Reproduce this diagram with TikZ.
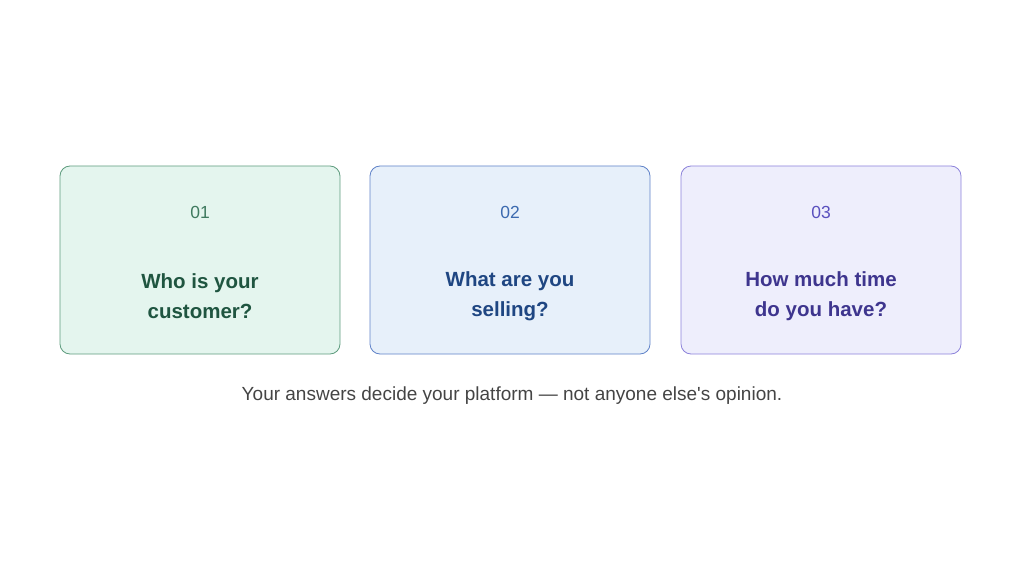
\documentclass[tikz,border=0pt]{standalone}
\usepackage{fontspec}
\setmainfont{Liberation Sans}
\usetikzlibrary{positioning}
\definecolor{greenfill}{HTML}{E4F5EE}
\definecolor{greenline}{HTML}{5E9C7E}
\definecolor{greennum}{HTML}{3F7A5F}
\definecolor{greentext}{HTML}{1F5540}
\definecolor{bluefill}{HTML}{E7F0FA}
\definecolor{blueline}{HTML}{5F82C8}
\definecolor{bluenum}{HTML}{3C6AAF}
\definecolor{bluetext}{HTML}{1F4682}
\definecolor{purplefill}{HTML}{EEEEFC}
\definecolor{purpleline}{HTML}{8C82DA}
\definecolor{purplenum}{HTML}{5A50BE}
\definecolor{purpletext}{HTML}{3E358E}
\definecolor{captiontext}{HTML}{444444}
\tikzset{
  card/.style={draw, rounded corners=10pt, minimum width=280pt, minimum height=188pt, line width=0.8pt},
  cardnum/.style={font=\fontsize{17.5}{20}\selectfont},
  question/.style={font=\fontsize{20.5}{30}\selectfont\bfseries, align=center}
}
\begin{document}
\begin{tikzpicture}[x=1pt,y=-1pt]
        \useasboundingbox (0,0) rectangle (1024,564);
        % Draw the cards
        \node[card, draw=greenline, fill=greenfill] (who) at (200,260) {};
        \node[card, draw=blueline, fill=bluefill] (what) at (510,260) {};
        \node[card, draw=purpleline, fill=purplefill] (time) at (821,260) {};
        % Label the numbers
        \node[cardnum, text=greennum] (one) at (200,212) {01};
        \node[cardnum, text=bluenum] (two) at (510,212) {02};
        \node[cardnum, text=purplenum] (three) at (821,212) {03};
        % Label the questions
        \node[question, text=greentext] (whoq) at (200,296) {Who is your\\customer?};
        \node[question, text=bluetext] (whatq) at (510,296) {What are you\\selling?};
        \node[question, text=purpletext] (timeq) at (821,296) {How much time\\do you have?};
        % Caption below the cards
        \node[font=\fontsize{19}{22}\selectfont, text=captiontext] (caption) at (512,396) {Your answers decide your platform — not anyone else\textquotesingle s opinion.};
    \end{tikzpicture}
\end{document}
